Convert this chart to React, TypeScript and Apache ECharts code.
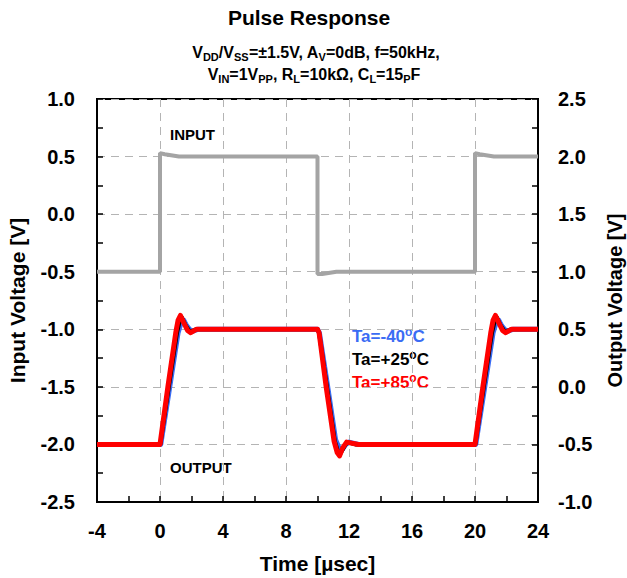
import React, { useEffect, useRef } from "react";
import * as echarts from "echarts";

// Input waveform (left axis)
const inputTime = [-4, 0, 0, 0.3, 1.2, 10, 10, 10.3, 11.2, 20, 20, 20.3, 21.2, 24];
const inputVal = [-0.5, -0.5, 0.53, 0.52, 0.5, 0.5, -0.52, -0.52, -0.5, -0.5, 0.53, 0.52, 0.5, 0.5];

// Output waveforms (right axis)
const blueTime = [-4, 0.05, 0.62, 1.15, 1.35, 1.5, 1.7, 2.0, 2.4, 10, 10.12, 10.65, 11.15, 11.4, 11.55, 11.8, 12.0, 12.6, 20.05, 20.62, 21.15, 21.35, 21.5, 21.7, 22.0, 22.4, 24];
const blueVal = [-0.5, -0.5, 0.0, 0.47, 0.56, 0.58, 0.53, 0.48, 0.5, 0.5, 0.47, 0.0, -0.46, -0.54, -0.55, -0.5, -0.48, -0.5, -0.5, 0.0, 0.47, 0.56, 0.58, 0.53, 0.48, 0.5, 0.5];

const blackTime = [-4, 0.02, 0.56, 1.08, 1.25, 1.4, 1.6, 1.9, 2.3, 10, 10.1, 10.6, 11.1, 11.3, 11.45, 11.7, 11.9, 12.4, 20.02, 20.56, 21.08, 21.25, 21.4, 21.6, 21.9, 22.3, 24];
const blackVal = [-0.5, -0.5, 0.0, 0.47, 0.57, 0.6, 0.54, 0.48, 0.5, 0.5, 0.47, 0.0, -0.47, -0.56, -0.58, -0.52, -0.48, -0.5, -0.5, 0.0, 0.47, 0.57, 0.6, 0.54, 0.48, 0.5, 0.5];

const redTime = [-4, 0, 0.5, 1.0, 1.15, 1.3, 1.5, 1.75, 1.95, 2.3, 10, 10.1, 10.55, 11.05, 11.25, 11.4, 11.6, 11.85, 12.2, 12.6, 20, 20.5, 21.0, 21.15, 21.3, 21.5, 21.75, 21.95, 22.3, 24];
const redVal = [-0.5, -0.5, 0.0, 0.47, 0.58, 0.62, 0.56, 0.49, 0.47, 0.5, 0.5, 0.47, 0.0, -0.47, -0.57, -0.6, -0.53, -0.48, -0.49, -0.5, -0.5, 0.0, 0.47, 0.58, 0.62, 0.56, 0.49, 0.47, 0.5, 0.5];

const FONT = "'Liberation Sans', Arial, sans-serif";
const BLUE = "#3a6cf4";
const RED = "#ff0000";
const GRAY = "#a4a4a4";

const zip = (t: number[], v: number[]) => t.map((x, i) => [x, v[i]]);

export default function App() {
  const ref = useRef<HTMLDivElement>(null);
  useEffect(() => {
    if (!ref.current) return;
    const chart = echarts.init(ref.current, undefined, { renderer: "svg", width: 627, height: 578 });
    const sub = { fontSize: 11, fontWeight: "bold", fontFamily: FONT, verticalAlign: "bottom", lineHeight: 11, fill: "#000" };
    const main = { fontSize: 16, fontWeight: "bold", fontFamily: FONT, lineHeight: 20, fill: "#000" };
    const legendRich = (color: string) => ({
      m: { fontSize: 17, fontWeight: "bold", fontFamily: FONT, lineHeight: 21, fill: color },
      o: { fontSize: 12, fontWeight: "bold", fontFamily: FONT, verticalAlign: "top", lineHeight: 12, fill: color },
    });
    const axisLabel = { fontSize: 20, fontWeight: "bold", fontFamily: FONT, color: "#000" };
    const nameStyle = { fontSize: 21, fontWeight: "bold", fontFamily: FONT, color: "#000" };
    const dashed = { show: true, lineStyle: { color: "#b4b4b4", type: [8, 6], width: 1 } };
    const line = { show: true, onZero: false, lineStyle: { color: "#000", width: 2 } };
    const tick = { show: true, inside: true, length: 6, lineStyle: { color: "#000", width: 1.5 } };
    const minor = { show: true, splitNumber: 2, length: 6, lineStyle: { color: "#000", width: 1.5 } };
    chart.setOption({
      animation: false,
      grid: { left: 97, right: 89, top: 99, bottom: 76, containLabel: false, outerBoundsMode: "none", show: true, borderColor: "#000", borderWidth: 2, backgroundColor: "transparent" },
      xAxis: {
        type: "value",
        min: -4,
        max: 24,
        interval: 4,
        name: "Time [µsec]",
        nameLocation: "middle",
        nameGap: 51,
        nameTextStyle: nameStyle,
        axisLine: line,
        axisTick: tick,
        minorTick: minor,
        axisLabel: { ...axisLabel, margin: 19 },
        splitLine: dashed,
      },
      yAxis: [
        {
          type: "value",
          min: -2.5,
          max: 1.0,
          interval: 0.5,
          name: "Input Voltage [V]",
          nameLocation: "middle",
          nameGap: 69,
          nameRotate: 90,
          nameTextStyle: nameStyle,
          axisLine: line,
          axisTick: tick,
          minorTick: minor,
          axisLabel: { ...axisLabel, margin: 22, formatter: (v: number) => v.toFixed(1) },
          splitLine: dashed,
        },
        {
          type: "value",
          position: "right",
          min: -1.0,
          max: 2.5,
          interval: 0.5,
          name: "Output Voltage [V]",
          nameLocation: "middle",
          nameGap: 67,
          nameRotate: 90,
          nameTextStyle: { ...nameStyle, fontSize: 20 },
          axisLine: line,
          axisTick: tick,
          minorTick: minor,
          axisLabel: { ...axisLabel, margin: 20, formatter: (v: number) => v.toFixed(1) },
          splitLine: { show: false },
        },
      ],
      series: [
        { type: "line", name: "INPUT", yAxisIndex: 0, data: zip(inputTime, inputVal), showSymbol: false, symbol: "none", lineStyle: { color: GRAY, width: 4 }, z: 2 },
        { type: "line", name: "Ta=-40", yAxisIndex: 1, data: zip(blueTime, blueVal), showSymbol: false, symbol: "none", lineStyle: { color: BLUE, width: 5, join: "round" }, z: 3 },
        { type: "line", name: "Ta=+25", yAxisIndex: 1, data: zip(blackTime, blackVal), showSymbol: false, symbol: "none", lineStyle: { color: "#000", width: 4, join: "round" }, z: 4 },
        { type: "line", name: "Ta=+85", yAxisIndex: 1, data: zip(redTime, redVal), showSymbol: false, symbol: "none", lineStyle: { color: RED, width: 5, join: "round" }, z: 5 },
      ],
      graphic: [
        { type: "text", x: 309, y: 17, style: { text: "Pulse Response", fontSize: 21, fontWeight: "bold", fontFamily: FONT, fill: "#000", textAlign: "center", textVerticalAlign: "middle" } },
        {
          type: "text", x: 316, y: 52,
          style: {
            text: "{m|V}{s|DD}{m|/V}{s|SS}{m|=±1.5V, A}{s|V}{m|=0dB, f=50kHz,}",
            rich: { m: main, s: sub }, textAlign: "center", textVerticalAlign: "middle",
          },
        },
        {
          type: "text", x: 314, y: 74,
          style: {
            text: "{m|V}{s|IN}{m|=1V}{s|PP}{m|, R}{s|L}{m|=10kΩ, C}{s|L}{m|=15}{s|P}{m|F}",
            rich: { m: main, s: sub }, textAlign: "center", textVerticalAlign: "middle",
          },
        },
        { type: "text", x: 170, y: 134, style: { text: "INPUT", fontSize: 15, fontWeight: "bold", fontFamily: FONT, fill: "#000", textVerticalAlign: "middle" } },
        { type: "text", x: 170, y: 467, style: { text: "OUTPUT", fontSize: 15, fontWeight: "bold", fontFamily: FONT, fill: "#000", textVerticalAlign: "middle" } },
        { type: "text", x: 352, y: 336, style: { text: "{m|Ta=-40}{o|o}{m|C}", rich: legendRich(BLUE), textVerticalAlign: "middle" } },
        { type: "text", x: 352, y: 359, style: { text: "{m|Ta=+25}{o|o}{m|C}", rich: legendRich("#000"), textVerticalAlign: "middle" } },
        { type: "text", x: 352, y: 382, style: { text: "{m|Ta=+85}{o|o}{m|C}", rich: legendRich(RED), textVerticalAlign: "middle" } },
      ],
    });
    return () => chart.dispose();
  }, []);
  return <div ref={ref} style={{ width: 627, height: 578, position: "absolute", left: 0, top: 0 }} />;
}
